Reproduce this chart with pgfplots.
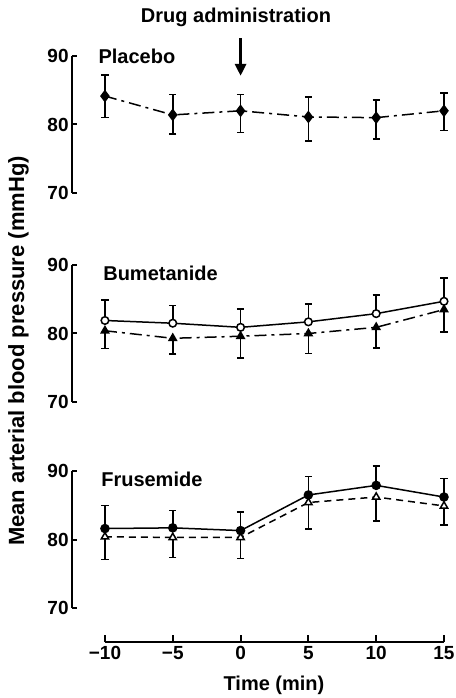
\documentclass[border=0pt]{standalone}
\usepackage{fontspec}
\setmainfont{Liberation Sans}
\usepackage{pgfplots}
\pgfplotsset{compat=1.18}
\usetikzlibrary{arrows.meta}

\pgfplotsset{
  panel/.style={
    scale only axis, width=186pt, height=68.5pt,
    xmin=-12.43, xmax=15, ymin=70, ymax=90,
    axis x line=none, axis y line=left,
    axis line style={-, line width=1pt},
    xtick=\empty, ytick={70,80,90}, yticklabels={70,80,90},
    tick align=inside, major tick length=2.5pt,
    tick style={line width=1pt, black},
    yticklabel style={font=\bfseries\fontsize{9.5}{10}\selectfont, inner sep=1.5pt},
    clip=false, anchor=south west,
  },
  ser/.style={black, line width=0.75pt,
    error bars/y explicit,
    error bars/error bar style={line width=0.75pt, solid},
    error bars/error mark options={rotate=90, mark size=1.8pt, line width=0.75pt, solid}},
}
\tikzset{
  dashdot/.style={dash pattern=on 6pt off 2.5pt on 1.5pt off 2.5pt},
  lab/.style={font=\bfseries\fontsize{10}{12}\selectfont, anchor=west, inner sep=0pt},
}

\begin{document}
\begin{tikzpicture}

% Placebo
\begin{axis}[panel, at={(0pt,207.5pt)}]
\addplot+[ser, dashdot, mark=diamond*, mark size=2.6pt, mark options={solid, fill=black},
  error bars/y dir=both] coordinates {
  (-10,84.15) += (0,3.05) -= (0,3.15)
  (-5,81.4)   += (0,3.0)  -= (0,2.8)
  (0,82.0)    += (0,2.4)  -= (0,3.2)
  (5,81.1)    += (0,2.9)  -= (0,3.5)
  (10,81.0)   += (0,2.6)  -= (0,3.1)
  (15,82.0)   += (0,2.6)  -= (0,2.9)
};
\node[lab] at (axis cs:-10.5,90) {Placebo};
\draw[line width=1.6pt, -{Triangle[length=6pt,width=5.5pt]}] (axis cs:0,92.6) -- (axis cs:0,87.1);
\end{axis}

% Bumetanide
\begin{axis}[panel, at={(0pt,103pt)}]
\addplot+[ser, dashdot, mark=triangle*, mark size=2.1pt, mark options={solid, fill=black},
  error bars/y dir=minus] coordinates {
  (-10,80.4) +- (0,2.6)
  (-5,79.3)  +- (0,2.3)
  (0,79.6)   +- (0,3.2)
  (5,80.0)   +- (0,2.9)
  (10,80.9)  +- (0,3.0)
  (15,83.5)  +- (0,3.3)
};
\addplot+[ser, solid, mark=*, mark size=1.9pt, mark options={solid, fill=white},
  error bars/y dir=plus] coordinates {
  (-10,81.9) +- (0,3.0)
  (-5,81.5)  +- (0,2.6)
  (0,80.9)   +- (0,2.7)
  (5,81.7)   +- (0,2.6)
  (10,82.9)  +- (0,2.7)
  (15,84.7)  +- (0,3.4)
};
\node[lab] at (axis cs:-10.15,88.8) {Bumetanide};
\end{axis}

% Frusemide
\begin{axis}[panel, at={(0pt,0pt)}]
\addplot+[ser, dash pattern=on 3.5pt off 2.5pt, mark=triangle*, mark size=2.1pt, mark options={solid, fill=white},
  error bars/y dir=minus] coordinates {
  (-10,80.4) +- (0,3.3)
  (-5,80.3)  +- (0,2.9)
  (0,80.3)   +- (0,3.1)
  (5,85.4)   +- (0,3.9)
  (10,86.2)  +- (0,3.5)
  (15,84.9)  +- (0,2.8)
};
\addplot+[ser, solid, mark=*, mark size=2pt, mark options={solid, fill=black},
  error bars/y dir=plus] coordinates {
  (-10,81.6) +- (0,3.4)
  (-5,81.7)  +- (0,2.5)
  (0,81.3)   +- (0,2.7)
  (5,86.5)   +- (0,2.7)
  (10,87.9)  +- (0,2.8)
  (15,86.2)  +- (0,2.7)
};
\node[lab] at (axis cs:-10.3,88.8) {Frusemide};
\end{axis}

% time axis
\begin{axis}[scale only axis, width=169.5pt, height=5pt, at={(16.5pt,-17pt)}, anchor=south west,
  xmin=-10, xmax=15, ymin=0, ymax=1,
  axis x line=bottom, axis y line=none,
  axis line style={-, line width=1pt},
  xtick={-10,-5,0,5,10,15}, xticklabels={−10,−5,0,5,10,15},
  tick align=inside, major tick length=3.5pt,
  tick style={line width=1pt, black},
  xticklabel style={font=\bfseries\fontsize{9.5}{10}\selectfont, inner sep=2pt},
  ytick=\empty]
\end{axis}

\node[font=\bfseries\fontsize{10}{12}\selectfont] at (82pt,295.5pt) {Drug administration};
\node[font=\bfseries\fontsize{10}{12}\selectfont] at (101pt,-38.5pt) {Time (min)};
\node[font=\bfseries\fontsize{11}{13}\selectfont, rotate=90] at (-26.75pt,128.5pt) {Mean arterial blood pressure (mmHg)};

\pgfresetboundingbox
\path[use as bounding box] (-36pt,304pt) rectangle (192pt,-45pt);
\end{tikzpicture}
\end{document}
